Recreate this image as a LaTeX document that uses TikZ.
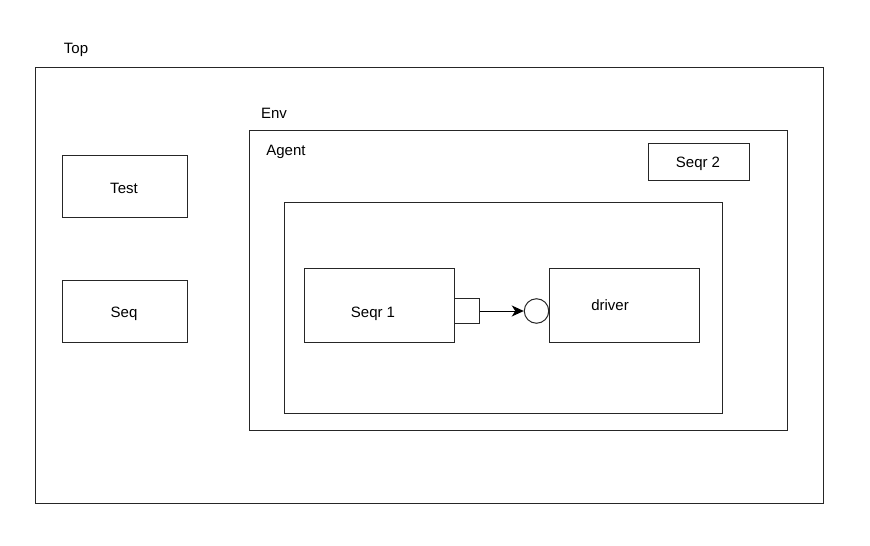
\documentclass[tikz,border=0pt]{standalone}
\usepackage{fontspec}
\setmainfont{Liberation Sans}
\usetikzlibrary{arrows.meta}
\begin{document}
\begin{tikzpicture}[x=1pt,y=-1pt,
  box/.style={draw=black!85,line width=1pt},
  lbl/.style={font=\fontsize{15}{17}\selectfont,inner sep=0pt,text=black,yshift=-1.5pt},
]
\useasboundingbox (0,0) rectangle (870,546);
\draw[box] (35,67) rectangle (823,503);
\node[lbl] (toplbl) at (76,48) {Top};
\draw[box] (249,130) rectangle (787,430);
\node[lbl] (envlbl) at (274,112) {Env};
\node[lbl] (agentlbl) at (286,150) {Agent};
\draw[box] (284,202) rectangle (722,413);
\node[box,minimum width=101pt,minimum height=37pt,inner sep=0pt] (seqr2) at (698.5,161.5) {};
\node[lbl] at (698,162) {Seqr 2};
\node[box,minimum width=125pt,minimum height=62pt,inner sep=0pt] (test) at (124.5,186) {};
\node[lbl] at (124,187) {Test};
\node[box,minimum width=125pt,minimum height=62pt,inner sep=0pt] (seq) at (124.5,311) {};
\node[lbl] at (124,312) {Seq};
\node[box,minimum width=150pt,minimum height=74pt,inner sep=0pt] (seqr1) at (379,305) {};
\node[lbl] at (373,312) {Seqr 1};
\node[box,minimum width=150pt,minimum height=74pt,inner sep=0pt] (driver) at (624,305) {};
\node[lbl] at (610,304) {driver};
\node[box,minimum size=25pt,inner sep=0pt] (port) at (466.5,311) {};
\node[box,circle,minimum size=24.5pt,inner sep=0pt,fill=white] (export) at (536.5,311) {};
\draw[line width=1pt,-{Stealth[length=12pt,width=11pt,inset=3.5pt]}] (port.east) -- (export.west);
\end{tikzpicture}
\end{document}
